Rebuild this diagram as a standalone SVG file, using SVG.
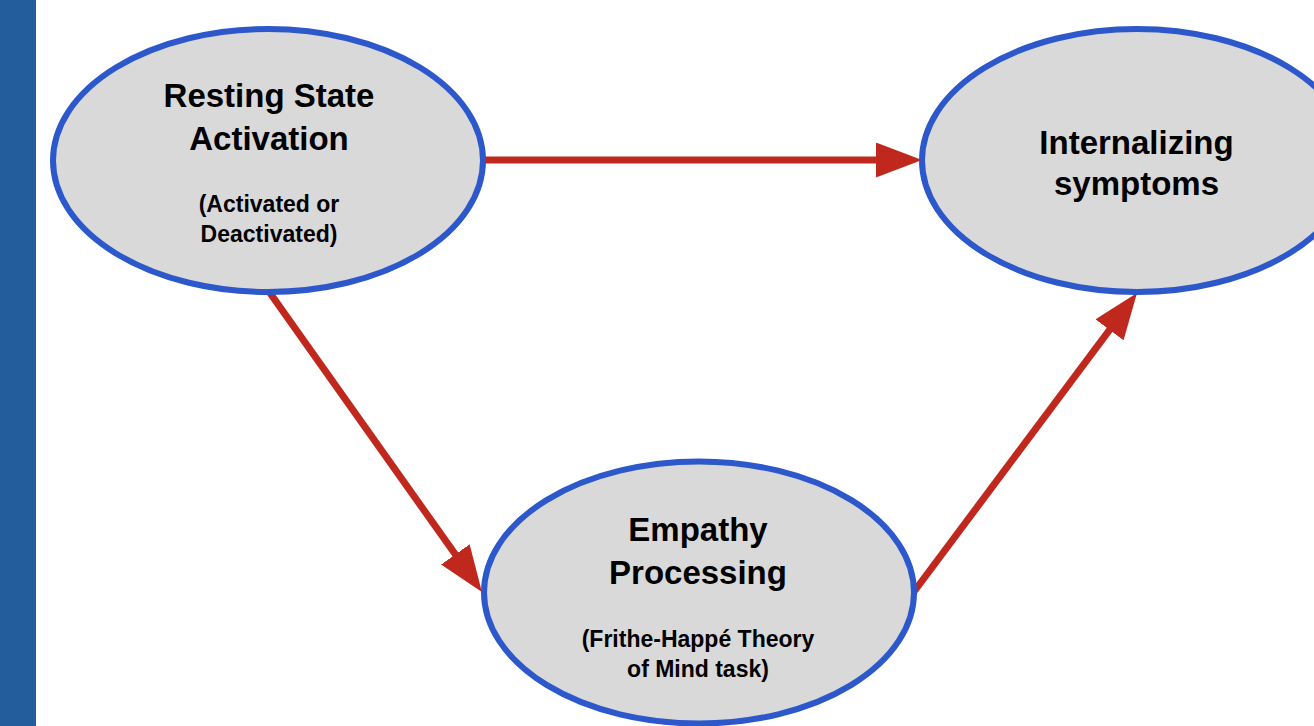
<svg xmlns="http://www.w3.org/2000/svg" width="1314" height="726" viewBox="0 0 1314 726">
<style>
.node ellipse{fill:#d9d9d9;stroke:#2c58cc;stroke-width:6}
.t{font-family:"Liberation Sans",Arial,sans-serif;font-weight:bold;fill:#000;text-anchor:middle}
.h{font-size:33px}
.s{font-size:23px}
.conn path{stroke:#c0281e;stroke-width:7;fill:none;marker-end:url(#ah)}
</style>
<defs>
<marker id="ah" markerUnits="userSpaceOnUse" markerWidth="48" markerHeight="36" refX="2" refY="17.5" orient="auto">
<path d="M0,0 L46,17.5 L0,35 Z" fill="#c0281e"/>
</marker>
</defs>
<rect x="0" y="0" width="1314" height="726" fill="#fff"/>
<rect x="0" y="0" width="36" height="726" fill="#235d9b"/>
<g class="conn">
<path d="M484,160 L878,160"/>
<path d="M270,293 L456.5,556.1"/>
<path d="M913,593 L1110.7,328.3"/>
</g>
<g id="resting" class="node">
<ellipse cx="268" cy="160.5" rx="215" ry="131.5"/>
<text class="t h" x="269" y="107">Resting State</text>
<text class="t h" x="269" y="150">Activation</text>
<text class="t s" x="269" y="212">(Activated or</text>
<text class="t s" x="269" y="242">Deactivated)</text>
</g>
<g id="internalizing" class="node">
<ellipse cx="1137" cy="160.5" rx="215" ry="131.5"/>
<text class="t h" x="1136.5" y="154">Internalizing</text>
<text class="t h" x="1136.5" y="195">symptoms</text>
</g>
<g id="empathy" class="node">
<ellipse cx="699" cy="592.5" rx="215" ry="131"/>
<text class="t h" x="698" y="541">Empathy</text>
<text class="t h" x="698" y="584">Processing</text>
<text class="t s" x="698" y="647">(Frithe-Happé Theory</text>
<text class="t s" x="698" y="677">of Mind task)</text>
</g>
</svg>
